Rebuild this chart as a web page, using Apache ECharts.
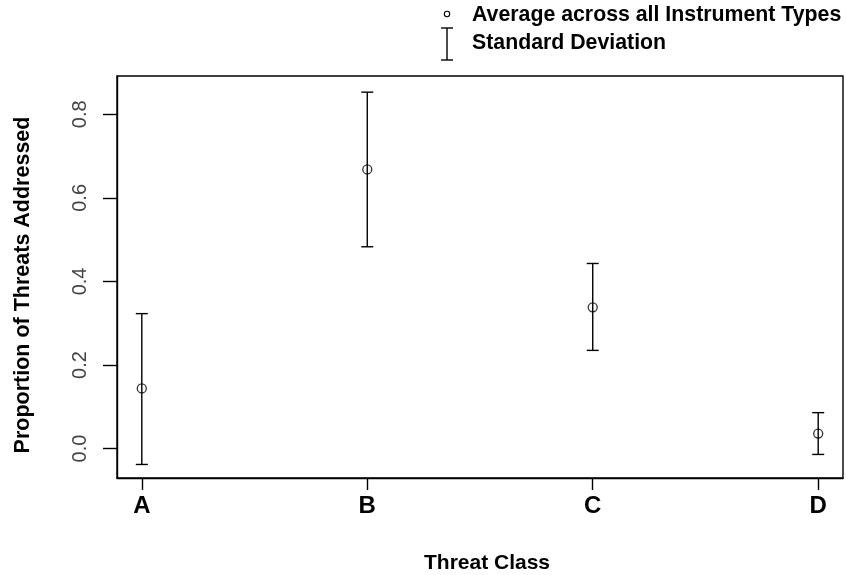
<!DOCTYPE html>
<html>
<head>
<meta charset="utf-8">
<script src="https://cdn.jsdelivr.net/npm/echarts@6/dist/echarts.min.js"></script>
<style>
html,body{margin:0;padding:0;background:#fff;}
#chart{width:846px;height:575px;}
</style>
</head>
<body>
<div id="chart"></div>
<script>
// ---- data ----
const categories = ['A', 'B', 'C', 'D'];
const xPositions = [1, 2, 3, 4];
const means = [0.144, 0.668, 0.338, 0.036];
const sdLow = [-0.038, 0.483, 0.235, -0.014];
const sdHigh = [0.323, 0.853, 0.443, 0.086];
const yTicks = [0, 0.2, 0.4, 0.6, 0.8];
const yTickLabels = ['0.0', '0.2', '0.4', '0.6', '0.8'];
const xTitle = 'Threat Class';
const yTitle = 'Proportion of Threats Addressed';
const legendMean = 'Average across all Instrument Types';
const legendSd = 'Standard Deviation';

const FONT = 'Liberation Sans, Arial, sans-serif';
const LW = 1.4;

const errData = xPositions.map((x, i) => [x, sdLow[i], sdHigh[i]]);
const meanData = xPositions.map((x, i) => [x, means[i]]);

const chart = echarts.init(document.getElementById('chart'));
chart.setOption({
  animation: false,
  backgroundColor: '#fff',
  grid: { left: 117, right: 3, top: 76, bottom: 97, show: true, borderColor: '#000', borderWidth: LW, backgroundColor: 'transparent' },
  xAxis: {
    type: 'value', min: 0.89, max: 4.11,
    splitLine: { show: false },
    axisLine: { show: true, onZero: false, lineStyle: { color: '#000', width: LW } },
    axisTick: { show: true, length: 12, customValues: xPositions, lineStyle: { color: '#000', width: LW } },
    axisLabel: {
      customValues: xPositions, margin: 16,
      formatter: v => categories[xPositions.indexOf(Math.round(v))] || '',
      color: '#000', fontFamily: FONT, fontWeight: 'bold', fontSize: 24
    }
  },
  yAxis: {
    type: 'value', min: -0.0704, max: 0.8917,
    splitLine: { show: false },
    axisLine: { show: true, onZero: false, lineStyle: { color: '#000', width: LW } },
    axisTick: { show: true, length: 14, customValues: yTicks, lineStyle: { color: '#000', width: LW } },
    axisLabel: {
      customValues: yTicks, rotate: 90, margin: 27,
      formatter: v => { const i = yTicks.findIndex(t => Math.abs(t - v) < 1e-6); return i >= 0 ? yTickLabels[i] : ''; },
      color: '#444', fontFamily: FONT, fontSize: 20
    }
  },
  graphic: [
    { type: 'text', x: 23, y: 285, rotation: Math.PI / 2,
      style: { text: yTitle, font: 'bold 21.5px ' + FONT, fill: '#000', align: 'center', verticalAlign: 'middle' } },
    { type: 'text', x: 487, y: 563,
      style: { text: xTitle, font: 'bold 21px ' + FONT, fill: '#000', align: 'center', verticalAlign: 'middle' } },
    // legend
    { type: 'circle', shape: { cx: 447, cy: 14, r: 2.7 }, style: { fill: '#fff', stroke: '#000', lineWidth: 1.1 } },
    { type: 'line', shape: { x1: 447, y1: 28, x2: 447, y2: 60 }, style: { stroke: '#000', lineWidth: LW } },
    { type: 'line', shape: { x1: 441, y1: 28, x2: 453, y2: 28 }, style: { stroke: '#000', lineWidth: LW } },
    { type: 'line', shape: { x1: 441, y1: 60, x2: 453, y2: 60 }, style: { stroke: '#000', lineWidth: LW } },
    { type: 'text', x: 472, y: 15,
      style: { text: legendMean, font: 'bold 21.3px ' + FONT, fill: '#000', align: 'left', verticalAlign: 'middle' } },
    { type: 'text', x: 472, y: 43,
      style: { text: legendSd, font: 'bold 21.3px ' + FONT, fill: '#000', align: 'left', verticalAlign: 'middle' } }
  ],
  series: [
    {
      type: 'custom',
      data: errData,
      renderItem: (params, api) => {
        const lo = api.coord([api.value(0), api.value(1)]);
        const hi = api.coord([api.value(0), api.value(2)]);
        const w = 6;
        const st = { stroke: '#000', lineWidth: LW };
        return {
          type: 'group',
          children: [
            { type: 'line', shape: { x1: lo[0], y1: lo[1], x2: hi[0], y2: hi[1] }, style: st },
            { type: 'line', shape: { x1: lo[0] - w, y1: lo[1], x2: lo[0] + w, y2: lo[1] }, style: st },
            { type: 'line', shape: { x1: hi[0] - w, y1: hi[1], x2: hi[0] + w, y2: hi[1] }, style: st }
          ]
        };
      },
      z: 2
    },
    {
      type: 'scatter',
      data: meanData,
      symbol: 'circle',
      symbolSize: 9,
      itemStyle: { color: 'rgba(255,255,255,0)', borderColor: '#000', borderWidth: 1.3 },
      z: 3
    }
  ]
});
</script>
</body>
</html>
